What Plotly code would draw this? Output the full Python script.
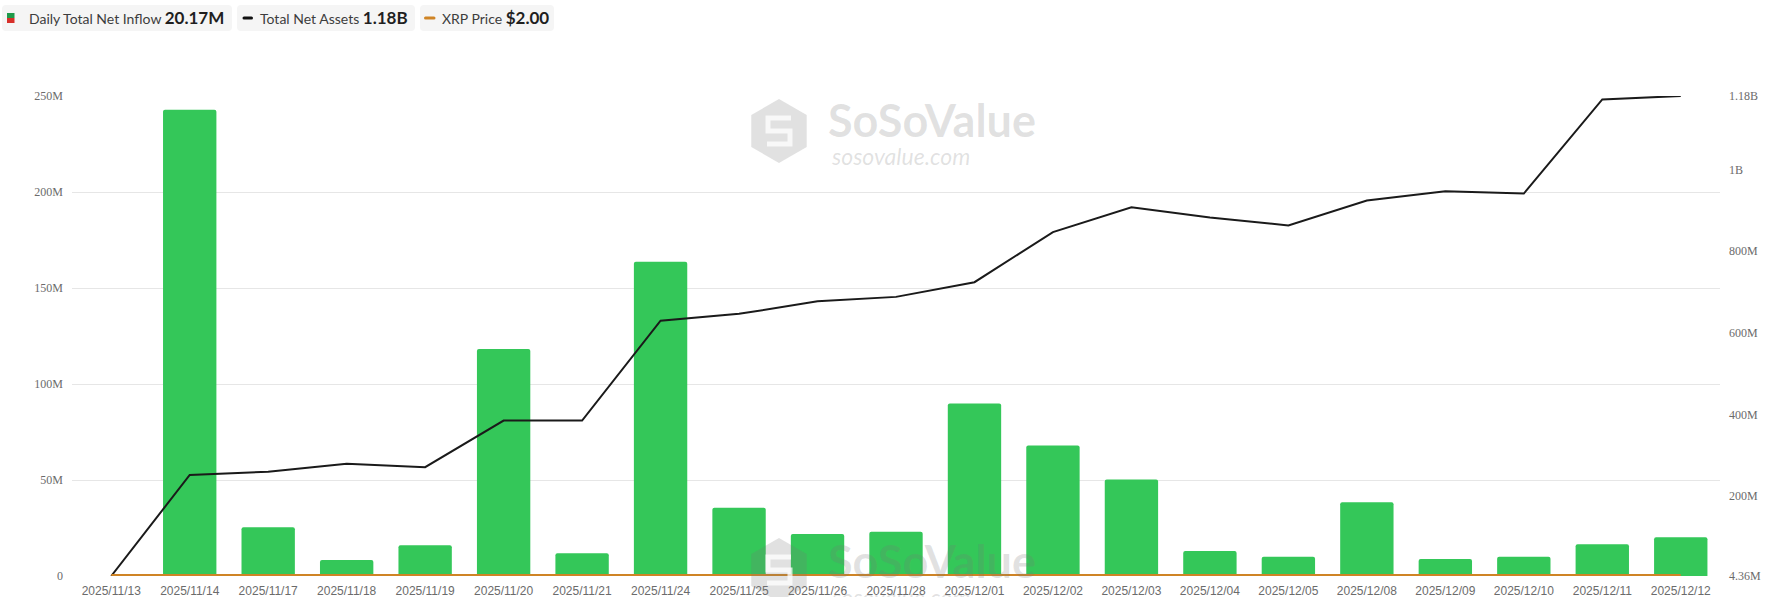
import math
import plotly.graph_objects as go

# ---------------- data ----------------
dates = ["2025/11/13", "2025/11/14", "2025/11/17", "2025/11/18", "2025/11/19", "2025/11/20",
         "2025/11/21", "2025/11/24", "2025/11/25", "2025/11/26", "2025/11/28", "2025/12/01",
         "2025/12/02", "2025/12/03", "2025/12/04", "2025/12/05", "2025/12/08", "2025/12/09",
         "2025/12/10", "2025/12/11", "2025/12/12"]
net_inflow_m = [0, 242.9, 25.4, 8.3, 16.0, 118.2, 11.8, 163.7, 35.5, 21.9, 23.0, 89.8,
                68.0, 50.2, 13.0, 10.0, 38.4, 8.9, 10.0, 16.5, 20.17]
net_assets_m = [4.36, 251.7, 260.0, 279.5, 271.0, 385.0, 385.0, 629.7, 646.4, 677.0, 688.0, 724.0,
                846.5, 907.7, 882.6, 863.0, 924.0, 946.6, 941.0, 1171.7, 1180.0]
xrp_price = [2.30, 2.28, 2.15, 2.20, 2.10, 2.00, 1.95, 2.20, 2.20, 2.20, 2.20, 2.05,
             2.20, 2.20, 2.10, 2.05, 2.05, 2.07, 2.05, 2.00, 2.00]

left_tickvals_m = [0, 50, 100, 150, 200, 250]
left_ticktext = ["0", "50M", "100M", "150M", "200M", "250M"]
right_tickvals_m = [4.36, 200, 400, 600, 800, 1000, 1180]
right_ticktext = ["4.36M", "200M", "400M", "600M", "800M", "1B", "1.18B"]

legend_items = [
    ("Daily Total Net Inflow", "20.17M"),
    ("Total Net Assets", "1.18B"),
    ("XRP Price", "$2.00"),
]

GREEN = "#34C759"
BLACK = "#1a1a1a"
ORANGE = "#CF8425"

# ---------------- layout geometry (pixels) ----------------
W, H = 1779, 597
L, R, T, B = 72, 1720, 96, 576


def px2x(px):
    return (px - L) / (R - L)


def py2y(py):
    return (B - py) / (B - T)


fig = go.Figure()

fig.add_trace(go.Bar(
    x=dates, y=[v * 1e6 for v in net_inflow_m], name="Daily Total Net Inflow",
    marker=dict(color=GREEN, line=dict(width=0)), yaxis="y",
))
fig.add_trace(go.Scatter(
    x=dates, y=[v * 1e6 for v in net_assets_m], name="Total Net Assets",
    mode="lines", line=dict(color=BLACK, width=2), yaxis="y2",
))
fig.add_trace(go.Scatter(
    x=dates, y=xrp_price, name="XRP Price",
    mode="lines", line=dict(color=ORANGE, width=2), yaxis="y3",
))

tick_serif = dict(family="Liberation Serif, Times New Roman, serif", size=12, color="#6b6b6b")

fig.update_layout(
    width=W, height=H,
    margin=dict(l=L, r=W - R, t=T, b=H - B, autoexpand=False),
    paper_bgcolor="white", plot_bgcolor="white",
    showlegend=False,
    bargap=0.32,
    barcornerradius=2,
    xaxis=dict(
        type="category", showgrid=False, showline=False, zeroline=False,
        tickfont=dict(family="Liberation Sans, Arial, sans-serif", size=12, color="#6b6b6b"),
        ticks="", ticklabelstandoff=6,
    ),
    yaxis=dict(
        range=[0, 250e6], tickvals=[v * 1e6 for v in left_tickvals_m], ticktext=left_ticktext,
        showgrid=True, gridcolor="#e6e6e6", gridwidth=1, zeroline=False, showline=False,
        tickfont=tick_serif, ticks="", ticklabelstandoff=8,
    ),
    yaxis2=dict(
        range=[4.36e6, 1.18e9], overlaying="y", side="right",
        tickvals=[v * 1e6 for v in right_tickvals_m], ticktext=right_ticktext,
        showgrid=False, zeroline=False, showline=False,
        tickfont=tick_serif, ticks="", ticklabelstandoff=8,
    ),
    yaxis3=dict(range=[0, 1000], overlaying="y", visible=False),
)

shapes = []
annotations = []


def rrect_path(x0, y0, x1, y1, r):
    def P(px, py):
        return f"{px2x(px):.6f},{py2y(py):.6f}"
    return (f"M{P(x0 + r, y0)} L{P(x1 - r, y0)} Q{P(x1, y0)} {P(x1, y0 + r)} "
            f"L{P(x1, y1 - r)} Q{P(x1, y1)} {P(x1 - r, y1)} L{P(x0 + r, y1)} "
            f"Q{P(x0, y1)} {P(x0, y1 - r)} L{P(x0, y0 + r)} Q{P(x0, y0)} {P(x0 + r, y0)} Z")


# ---------------- custom legend ----------------
boxes = [(2, 232), (237, 415), (420, 554)]
text_x = [27, 258, 439.5]
for (label, value), (bx0, bx1), tx in zip(legend_items, boxes, text_x):
    shapes.append(dict(type="path", xref="paper", yref="paper", path=rrect_path(bx0, 5, bx1, 31, 4),
                       fillcolor="#f5f5f5", line=dict(width=0), layer="above"))
    annotations.append(dict(
        xref="paper", yref="paper", x=px2x(tx), y=py2y(18), xanchor="left", yanchor="middle",
        showarrow=False, align="left",
        text=f"<span style='color:#3d3d3d'>{label}</span> "
             f"<span style='font-size:17px;color:#1f1f1f'><b>{value}</b></span>",
        font=dict(family="Lato, Noto Sans, sans-serif", size=14, color="#3d3d3d"),
    ))

# icons
shapes.append(dict(type="rect", xref="paper", yref="paper", x0=px2x(7), x1=px2x(14.5),
                   y0=py2y(18), y1=py2y(13), fillcolor="#1f9a4a", line=dict(width=0), layer="above"))
shapes.append(dict(type="rect", xref="paper", yref="paper", x0=px2x(7), x1=px2x(14.5),
                   y0=py2y(23), y1=py2y(18), fillcolor="#d7302a", line=dict(width=0), layer="above"))
shapes.append(dict(type="path", xref="paper", yref="paper", path=rrect_path(242.5, 16.5, 253, 19.5, 1.5),
                   fillcolor="#111111", line=dict(width=0), layer="above"))
shapes.append(dict(type="path", xref="paper", yref="paper", path=rrect_path(424, 16.5, 435.5, 19.5, 1.5),
                   fillcolor=ORANGE, line=dict(width=0), layer="above"))

# ---------------- watermarks ----------------
WM = "rgba(120,120,120,0.22)"
for cy_text, cy_icon in [(120, 131), (561, 570)]:
    cx = 779
    r = 32
    pts = []
    for k in range(6):
        ang = math.radians(90 + 60 * k)
        pts.append((cx + r * math.cos(ang), cy_icon - r * math.sin(ang)))
    path = "M" + " L".join(f"{px2x(a):.6f},{py2y(b):.6f}" for a, b in pts) + " Z"
    shapes.append(dict(type="path", xref="paper", yref="paper", path=path,
                       fillcolor=WM, line=dict(width=0), layer="above"))
    s_pts = [(12, -13), (-11, -13), (-11, 0), (11, 0), (11, 13), (-12, 13)]
    s_path = "M" + " L".join(f"{px2x(cx + a):.6f},{py2y(cy_icon + b):.6f}" for a, b in s_pts)
    shapes.append(dict(type="path", xref="paper", yref="paper", path=s_path,
                       line=dict(color="rgba(255,255,255,0.75)", width=5), layer="above"))
    annotations.append(dict(
        xref="paper", yref="paper", x=px2x(826), y=py2y(cy_text), xanchor="left", yanchor="middle",
        showarrow=False, text="<b>SoSoValue</b>",
        font=dict(family="Lato, sans-serif", size=45, color=WM),
    ))
    annotations.append(dict(
        xref="paper", yref="paper", x=px2x(829), y=py2y(cy_text + 36), xanchor="left", yanchor="middle",
        showarrow=False, text="<i>sosovalue.com</i>",
        font=dict(family="Lato, sans-serif", size=23, color=WM),
    ))

fig.update_layout(shapes=shapes, annotations=annotations)

fig.write_html(
    "out.html",
    config={"displayModeBar": False},
    post_script="document.body.style.margin='0';document.body.style.padding='0';",
)
